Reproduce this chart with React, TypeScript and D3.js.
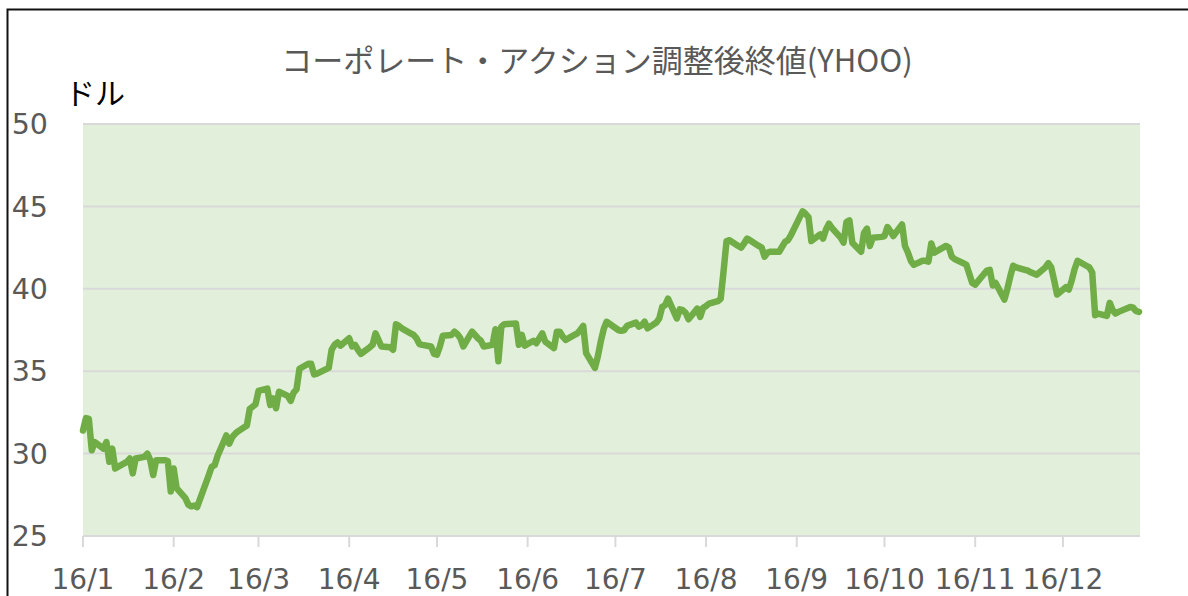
//@ts-nocheck
import * as d3 from 'd3';
import { useEffect, useRef } from 'react';

// Chart texts
const TITLE = 'コーポレート・アクション調整後終値(YHOO)';
const Y_UNIT = 'ドル';

// Y axis ticks
const Y_TICKS = [25, 30, 35, 40, 45, 50];

// X axis ticks (Excel date axis: one tick a month, counted from the first trading day)
const X_TICK_DATES = [
  '2016-01-04', '2016-02-04', '2016-03-04', '2016-04-04', '2016-05-04', '2016-06-04',
  '2016-07-04', '2016-08-04', '2016-09-04', '2016-10-04', '2016-11-04', '2016-12-04',
];
const X_TICK_LABELS = ['16/1', '16/2', '16/3', '16/4', '16/5', '16/6', '16/7', '16/8', '16/9', '16/10', '16/11', '16/12'];

// NYSE holidays in 2016 (no close on these days)
const HOLIDAYS = ['2016-01-01', '2016-01-18', '2016-02-15', '2016-03-25', '2016-05-30', '2016-07-04', '2016-09-05', '2016-11-24', '2016-12-26'];
const FIRST_DAY = '2016-01-04';
const LAST_DAY = '2016-12-30';

// Adjusted closes, one per trading day, month by month
const CLOSE_JAN = [31.4, 32.15, 32.1, 30.2, 30.7, 30.3, 30.7, 29.5, 30.3, 29.1, 29.5, 29.7, 28.8, 29.7, 29.8, 30.0, 29.6, 28.7, 29.6];
const CLOSE_FEB = [29.6, 29.55, 27.7, 29.1, 27.9, 27.3, 26.9, 26.8, 26.85, 26.75, 28.7, 29.2, 29.3, 29.85, 31.1, 30.6, 31.0, 31.2, 31.35, 31.7];
const CLOSE_MAR = [32.7, 32.85, 33.0, 33.8, 33.95, 32.95, 33.35, 32.75, 33.75, 33.5, 33.2, 33.7, 33.9, 35.15, 35.45, 35.45, 34.8, 34.85, 35.2, 36.3, 36.6, 36.75];
const CLOSE_APR = [36.55, 37.0, 36.5, 36.6, 36.3, 36.05, 36.45, 36.6, 37.3, 36.9, 36.5, 36.45, 36.3, 37.85, 37.75, 37.6, 37.3, 37.2, 37.0, 36.65, 36.6];
const CLOSE_MAY = [36.5, 36.05, 36.0, 36.5, 37.15, 37.2, 37.4, 37.25, 37.0, 36.5, 37.4, 37.2, 37.0, 36.85, 36.5, 36.6, 37.55, 35.6, 37.7, 37.85, 37.9];
const CLOSE_JUN = [36.6, 37.2, 36.55, 36.85, 36.7, 37.0, 37.3, 36.8, 36.4, 37.4, 37.4, 37.1, 36.9, 37.2, 37.3, 37.5, 37.75, 36.1, 35.2, 35.9, 36.8, 37.55];
const CLOSE_JUL = [38.0, 37.5, 37.45, 37.5, 37.75, 37.95, 37.7, 37.8, 38.0, 37.6, 37.95, 38.2, 38.9, 39.0, 39.4, 38.2, 38.75, 38.7, 38.55, 38.15];
const CLOSE_AUG = [38.8, 38.3, 38.85, 38.95, 39.1, 39.25, 39.4, 41.1, 42.9, 42.95, 42.6, 42.5, 42.75, 43.05, 42.95, 42.6, 42.5, 41.95, 42.2, 42.25, 42.25, 42.55, 42.85];
const CLOSE_SEP = [42.95, 43.25, 44.7, 44.55, 44.35, 42.9, 43.3, 43.05, 43.6, 43.95, 43.7, 43.1, 42.8, 44.05, 44.15, 42.8, 42.25, 43.4, 43.65, 42.6, 43.1];
const CLOSE_OCT = [43.15, 43.2, 43.75, 43.5, 43.2, 43.9, 42.6, 42.2, 41.7, 41.45, 41.7, 41.7, 41.65, 42.75, 42.2, 42.5, 42.6, 42.5, 41.95, 41.8, 41.55];
const CLOSE_NOV = [41.45, 40.9, 40.35, 40.25, 40.9, 41.1, 41.15, 40.2, 40.35, 39.35, 40.0, 40.75, 41.4, 41.3, 41.15, 41.1, 41.0, 40.85, 41.3, 41.55, 41.3];
const CLOSE_DEC = [40.5, 39.65, 40.1, 39.95, 40.5, 41.2, 41.7, 41.4, 41.3, 41.0, 38.4, 38.5, 38.35, 39.15, 38.7, 38.5, 38.6, 38.9, 38.85, 38.65, 38.6];

const CLOSES = [
  ...CLOSE_JAN, ...CLOSE_FEB, ...CLOSE_MAR, ...CLOSE_APR, ...CLOSE_MAY, ...CLOSE_JUN,
  ...CLOSE_JUL, ...CLOSE_AUG, ...CLOSE_SEP, ...CLOSE_OCT, ...CLOSE_NOV, ...CLOSE_DEC,
];

const parse = d3.timeParse('%Y-%m-%d');
const fmt = d3.timeFormat('%Y-%m-%d');

// trading calendar: weekdays that are not holidays
function tradingDays() {
  const days = d3.timeDay.range(parse(FIRST_DAY), d3.timeDay.offset(parse(LAST_DAY), 1));
  return days.filter((d) => d.getDay() !== 0 && d.getDay() !== 6 && !HOLIDAYS.includes(fmt(d)));
}

export default function App() {
  const ref = useRef<HTMLDivElement>(null);

  useEffect(() => {
    const el = ref.current;
    if (!el) return;
    el.innerHTML = '';

    const W = 1188;
    const H = 596;
    const PLOT = { LEFT: 83, RIGHT: 1139, TOP: 124, BOTTOM: 536 };

    const dates = tradingDays();
    const data = dates.slice(0, CLOSES.length).map((d, i) => ({ date: d, value: CLOSES[i] }));

    const x = d3.scaleTime().domain([parse(FIRST_DAY), parse(LAST_DAY)]).range([PLOT.LEFT, PLOT.RIGHT]);
    const y = d3.scaleLinear().domain([25, 50]).range([PLOT.BOTTOM, PLOT.TOP]);

    const svg = d3
      .select(el)
      .append('svg')
      .attr('width', W)
      .attr('height', H)
      .style('position', 'absolute')
      .style('left', 0)
      .style('top', 0)
      .style('background', '#fff');

    // chart border
    svg
      .append('rect')
      .attr('x', 7.5)
      .attr('y', 9.5)
      .attr('width', W + 20)
      .attr('height', H + 20)
      .attr('fill', '#fff')
      .attr('stroke', '#111')
      .attr('stroke-width', 2);

    // title
    svg
      .append('text')
      .attr('x', 597)
      .attr('y', 72)
      .attr('text-anchor', 'middle')
      .attr('font-family', '"Noto Sans CJK JP", sans-serif')
      .attr('font-size', 31)
      .attr('fill', '#595959')
      .text(TITLE);

    // unit
    svg
      .append('text')
      .attr('x', 65)
      .attr('y', 104)
      .attr('font-family', '"Noto Sans CJK JP", sans-serif')
      .attr('font-size', 30)
      .attr('fill', '#000')
      .text(Y_UNIT);

    // plot background
    svg
      .append('rect')
      .attr('x', PLOT.LEFT)
      .attr('y', PLOT.TOP)
      .attr('width', PLOT.RIGHT - PLOT.LEFT + 1)
      .attr('height', PLOT.BOTTOM - PLOT.TOP)
      .attr('fill', '#e2efda');

    // gridlines
    svg
      .append('g')
      .selectAll('line')
      .data(Y_TICKS)
      .join('line')
      .attr('x1', PLOT.LEFT)
      .attr('x2', PLOT.RIGHT + 1)
      .attr('y1', (d) => y(d))
      .attr('y2', (d) => y(d))
      .attr('stroke', '#d9d9d9')
      .attr('stroke-width', 2);

    // y labels
    svg
      .append('g')
      .selectAll('text')
      .data(Y_TICKS)
      .join('text')
      .attr('x', 48)
      .attr('y', (d) => y(d))
      .attr('dy', '0.36em')
      .attr('text-anchor', 'end')
      .attr('font-family', '"DejaVu Sans", Verdana, sans-serif')
      .attr('font-size', 28.5)
      .attr('fill', '#595959')
      .text((d) => d);

    // x ticks and labels
    const tickDates = X_TICK_DATES.map(parse);
    svg
      .append('g')
      .selectAll('line')
      .data(tickDates)
      .join('line')
      .attr('x1', (d) => x(d))
      .attr('x2', (d) => x(d))
      .attr('y1', PLOT.BOTTOM)
      .attr('y2', PLOT.BOTTOM + 11)
      .attr('stroke', '#d9d9d9')
      .attr('stroke-width', 2);

    svg
      .append('g')
      .selectAll('text')
      .data(tickDates)
      .join('text')
      .attr('x', (d) => x(d))
      .attr('y', 589)
      .attr('text-anchor', 'middle')
      .attr('font-family', '"DejaVu Sans", Verdana, sans-serif')
      .attr('font-size', 28)
      .attr('fill', '#595959')
      .text((d, i) => X_TICK_LABELS[i]);

    // price line
    const line = d3
      .line<{ date: Date; value: number }>()
      .x((d) => x(d.date))
      .y((d) => y(d.value));

    svg
      .append('path')
      .datum(data)
      .attr('d', line)
      .attr('fill', 'none')
      .attr('stroke', '#70ad47')
      .attr('stroke-width', 6.5)
      .attr('stroke-linejoin', 'round')
      .attr('stroke-linecap', 'round');
  }, []);

  return <div ref={ref}></div>;
}
